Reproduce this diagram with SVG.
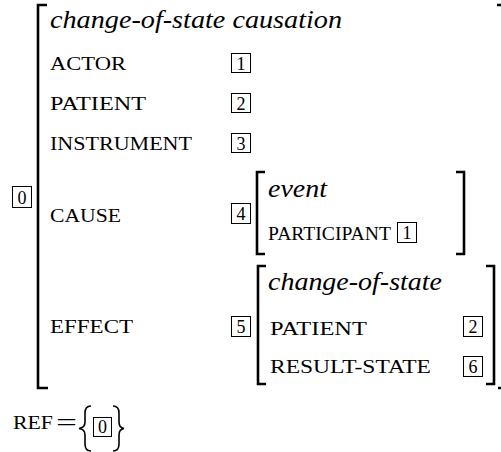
<svg xmlns="http://www.w3.org/2000/svg" width="501" height="452" viewBox="0 0 501 452">
  <style>
    text { font-family: "Liberation Serif", "Times New Roman", serif; fill: #000; }
    .type { font-style: italic; font-size: 26px; }
    .feat { font-size: 18.5px; }
    .tag { font-size: 18px; text-anchor: middle; }
    .box { fill: none; stroke: #000; stroke-width: 1; }
    .brk { fill: none; stroke: #000; stroke-width: 2.6; stroke-linecap: butt; }
    .brc { fill: none; stroke: #000; stroke-width: 1.6; }
  </style>

  <!-- tag box 0 for the whole structure -->
  <g id="tag-0">
    <rect class="box" x="12.5" y="186.5" width="19" height="21"/>
    <text class="tag" x="22" y="203.5">0</text>
  </g>

  <!-- outer attribute-value matrix -->
  <g id="outer-avm">
    <path class="brk" d="M47 5 H38 V388 H48"/>
    <path class="brk" d="M497 5 H501 M498 388 H501"/>
    <text class="type" x="50" y="28" textLength="292" lengthAdjust="spacingAndGlyphs">change-of-state causation</text>

    <text class="feat" x="50" y="70" textLength="76" lengthAdjust="spacingAndGlyphs">ACTOR</text>
    <rect class="box" x="231.5" y="53.5" width="19" height="19"/>
    <text class="tag" x="241" y="69.5">1</text>

    <text class="feat" x="50" y="110" textLength="96" lengthAdjust="spacingAndGlyphs">PATIENT</text>
    <rect class="box" x="231.5" y="93.5" width="19" height="19"/>
    <text class="tag" x="241" y="109.5">2</text>

    <text class="feat" x="50" y="150" textLength="142" lengthAdjust="spacingAndGlyphs">INSTRUMENT</text>
    <rect class="box" x="231.5" y="133.5" width="19" height="19"/>
    <text class="tag" x="241" y="149.5">3</text>

    <text class="feat" x="50" y="222" textLength="71" lengthAdjust="spacingAndGlyphs">CAUSE</text>
    <rect class="box" x="231.5" y="203.5" width="19" height="20"/>
    <text class="tag" x="241" y="220">4</text>

    <text class="feat" x="50" y="333" textLength="83" lengthAdjust="spacingAndGlyphs">EFFECT</text>
    <rect class="box" x="231.5" y="316.5" width="19" height="20"/>
    <text class="tag" x="241" y="333">5</text>
  </g>

  <!-- value of CAUSE: event matrix -->
  <g id="cause-avm">
    <path class="brk" d="M265 172 H257 V254 H265"/>
    <path class="brk" d="M456 172 H464 V254 H456"/>
    <text class="type" x="268" y="197" textLength="59" lengthAdjust="spacingAndGlyphs">event</text>
    <text class="feat" x="268" y="240" textLength="123" lengthAdjust="spacingAndGlyphs">PARTICIPANT</text>
    <rect class="box" x="397.5" y="222.5" width="19" height="20"/>
    <text class="tag" x="407" y="239">1</text>
  </g>

  <!-- value of EFFECT: change-of-state matrix -->
  <g id="effect-avm">
    <path class="brk" d="M266 266 H258 V384 H266"/>
    <path class="brk" d="M486 266 H494 V384 H486"/>
    <text class="type" x="268" y="290" textLength="174" lengthAdjust="spacingAndGlyphs">change-of-state</text>
    <text class="feat" x="270" y="335" textLength="97" lengthAdjust="spacingAndGlyphs">PATIENT</text>
    <rect class="box" x="463.5" y="316.5" width="19" height="20"/>
    <text class="tag" x="473" y="333">2</text>
    <text class="feat" x="270" y="373" textLength="161" lengthAdjust="spacingAndGlyphs">RESULT-STATE</text>
    <rect class="box" x="463.5" y="356.5" width="19" height="20"/>
    <text class="tag" x="473" y="373">6</text>
  </g>

  <!-- REF = { 0 } -->
  <g id="ref-line">
    <text class="feat" x="13" y="429" textLength="40" lengthAdjust="spacingAndGlyphs">REF</text>
    <text x="56" y="431" textLength="21" lengthAdjust="spacingAndGlyphs" style="font-size:26px">=</text>
    <path class="brc" d="M91 406 C86 406 85 409 85 413 L85 422 C85 426 83 428 79 428.5 C83 429 85 431 85 435 L85 444 C85 448 86 451 91 451"/>
    <rect class="box" x="93.5" y="417.5" width="18" height="19"/>
    <text class="tag" x="102.5" y="433">0</text>
    <path class="brc" d="M113 406 C118 406 119 409 119 413 L119 422 C119 426 121 428 124 428.5 C121 429 119 431 119 435 L119 444 C119 448 118 451 113 451"/>
  </g>
</svg>
